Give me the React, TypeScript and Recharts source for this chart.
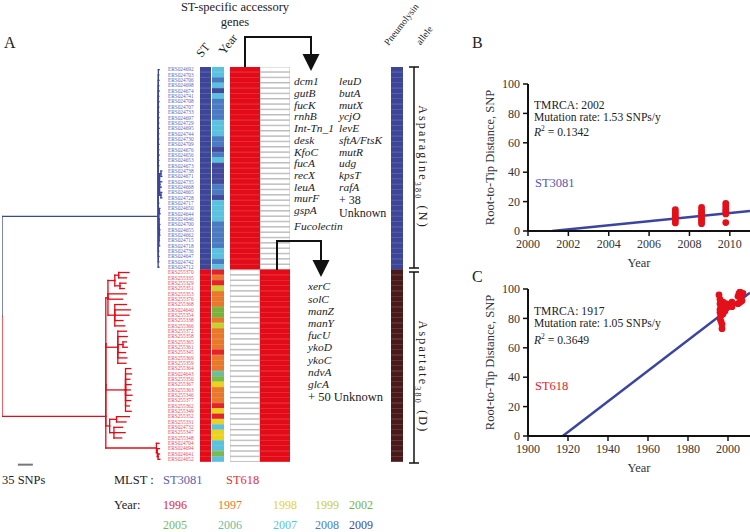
import React from 'react';
import {
  BarChart,
  Bar,
  Cell,
  ComposedChart,
  Line,
  Scatter,
  XAxis,
  YAxis,
  ReferenceLine,
  Label,
} from 'recharts';

const FONT = "'Liberation Serif', 'DejaVu Serif', serif";

// isolates of each ST, top to bottom as in the heat map
const st3081Tips = [
  'ERS024692', 'ERS024703', 'ERS024706', 'ERS024698', 'ERS024674', 'ERS024741', 'ERS024708',
  'ERS024707', 'ERS024733', 'ERS024697', 'ERS024729', 'ERS024695', 'ERS024744', 'ERS024730',
  'ERS024709', 'ERS024676', 'ERS024656', 'ERS024653', 'ERS024673', 'ERS024738', 'ERS024671',
  'ERS024735', 'ERS024668', 'ERS024665', 'ERS024728', 'ERS024717', 'ERS024650', 'ERS024644',
  'ERS024646', 'ERS024700', 'ERS024655', 'ERS024662', 'ERS024715', 'ERS024718', 'ERS024736',
  'ERS024647', 'ERS024742', 'ERS024712',
];
const st618Tips = [
  'ERS255370', 'ERS255335', 'ERS255329', 'ERS255351', 'ERS255353', 'ERS255376', 'ERS255368',
  'ERS024640', 'ERS255354', 'ERS255338', 'ERS255366', 'ERS255372', 'ERS255358', 'ERS255365',
  'ERS255361', 'ERS255345', 'ERS255369', 'ERS255359', 'ERS255364', 'ERS024643', 'ERS255350',
  'ERS255367', 'ERS255363', 'ERS255346', 'ERS255377', 'ERS255362', 'ERS255349', 'ERS255352',
  'ERS255331', 'ERS024732', 'ERS255347', 'ERS255348', 'ERS024704', 'ERS024694', 'ERS024641',
  'ERS024652',
];

// isolation year of each isolate (same order)
const st3081Years = [
  2007, 2007, 2008, 2007, 2009, 2007, 2008, 2008, 2008, 2008, 2007, 2007, 2007, 2008, 2008, 2009,
  2008, 2007, 2009, 2009, 2009, 2009, 2008, 2008, 2009, 2007, 2007, 2007, 2007, 2008, 2008, 2008,
  2008, 2008, 2007, 2007, 2008, 2007,
];
const st618Years = [
  1996, 1997, 1996, 1999, 1997, 1997, 1997, 2002, 2002, 1997, 1999, 1997, 1997, 1997, 1997, 1996,
  1997, 1997, 1997, 2006, 2005, 1998, 1997, 1997, 1997, 1996, 1998, 1996, 1998, 2007, 1998, 1998,
  2007, 2007, 2005, 2007,
];

// ML tree, branch lengths in SNPs
const treeNewick = `(
((ERS024692:2,ERS024703:1,ERS024706:1.5,ERS024698:1,ERS024674:2,ERS024741:1,ERS024708:1.5,
ERS024707:1,ERS024733:1,ERS024697:1.5,ERS024729:1,ERS024695:2,ERS024744:1,ERS024730:1,
ERS024709:1.5,ERS024676:1,ERS024656:2,ERS024653:1,ERS024673:1,
((ERS024738:2,ERS024671:2):3,ERS024735:5,ERS024668:4,(ERS024665:2,ERS024728:2):3):3,
ERS024717:1,((ERS024650:1,ERS024644:1.5):1,ERS024646:1,ERS024700:2,(ERS024655:1,ERS024662:1):1,
ERS024715:1,ERS024718:1.5):1.5,ERS024736:1,ERS024647:1.5,ERS024742:1):0.5,ERS024712:2):364,
((((((ERS255370:24,ERS255335:18):9,(ERS255329:14,ERS255351:10):12):16,ERS255353:43,ERS255376:34,
(ERS255368:27,ERS024640:36,ERS255354:33,ERS255338:19,ERS255366:23):16):5,
(ERS255372:20,ERS255358:22,(ERS255365:8,ERS255361:10):12,ERS255345:18,ERS255369:21,ERS255359:19):28,
(ERS255364:12,ERS024643:14,ERS255350:10,ERS255367:13,ERS255363:11,ERS255346:15,ERS255377:12,
ERS255362:9,ERS255349:13):46):0,
((ERS255352:30,ERS255331:22):16,(ERS024732:20,ERS255347:26,ERS255348:18):10):9):0,
(ERS024704:6,(ERS024694:5,(ERS024641:3,ERS024652:4):2):2):118):242
);`;

const yearLegend = [1996, 1997, 1998, 1999, 2002, 2005, 2006, 2007, 2008, 2009];
const yearColors: Record<number, string> = {
  1996: '#e3222c',
  1997: '#e8792a',
  1998: '#ead31c',
  1999: '#c5d22c',
  2002: '#78b43c',
  2005: '#7cba4a',
  2006: '#69c09e',
  2007: '#5ac2df',
  2008: '#4a7bc2',
  2009: '#42489b',
};

const st3081Genes = ['dcm1', 'gutB', 'fucK', 'rnhB', 'Int-Tn_1', 'desk', 'KfoC', 'fucA', 'recX', 'leuA', 'murF', 'gspA'];
const st3081Genes2 = ['leuD', 'butA', 'mutX', 'ycjO', 'levE', 'sftA/FtsK', 'mutR', 'udg', 'kpsT', 'rafA'];
const st618Genes = ['xerC', 'solC', 'manZ', 'manY', 'fucU', 'ykoD', 'ykoC', 'ndvA', 'glcA'];

// panel B, ST3081
const bYears = [
  2007.3, 2007.3, 2007.3, 2007.3, 2007.3, 2007.3, 2007.3,
  2008.6, 2008.6, 2008.6, 2008.6, 2008.6, 2008.6, 2008.6, 2008.6,
  2009.8, 2009.8, 2009.8, 2009.8, 2009.8, 2009.8,
];
const bSnps = [5.5, 7, 8.5, 10, 11.5, 13, 14.5, 5, 6.5, 8, 9.5, 11, 12.5, 14, 16, 5.7, 11.6, 13.5, 15, 17, 18.8];
const bFitYears = [2001.2, 2011];
const bFitSnps = [0, 13.6];

// panel C, ST618
const cYears = [
  1995.5, 1996, 1996, 1996.5, 1996, 1997, 1996.5, 1996, 1996.5, 1997, 1997, 1997.5, 1998, 1998,
  1998.5, 1997.5, 1999, 1999, 1997, 1996, 2001.5, 2002, 2002, 2005, 2005.5, 2006, 2006.5, 2005,
  2006, 2007, 2007.5,
];
const cSnps = [
  96, 93, 90, 88, 86, 84, 82, 80, 78, 76, 73, 91, 89, 87, 85, 83, 87, 90, 88, 84, 90, 91, 88, 95,
  97, 98, 96, 90, 91, 92, 97,
];
const cFitYears = [1917.4, 2011];
const cFitSnps = [0, 97.5];

const BLUE = '#3d4599';
const RED = '#e30b17';
const BROWN = '#4a1a1a';

// ---- tree ----
type TNode = { name: string; len: number; kids: TNode[]; x: number; y: number };

function parseNewick(src: string): TNode {
  const s = src.replace(/\s+/g, '');
  let i = 0;
  const read = (): TNode => {
    const n: TNode = { name: '', len: 0, kids: [], x: 0, y: 0 };
    if (s[i] === '(') {
      do {
        i++;
        n.kids.push(read());
      } while (s[i] === ',');
      i++;
    }
    while (i < s.length && !',():;'.includes(s[i])) n.name += s[i++];
    if (s[i] === ':') {
      i++;
      let num = '';
      while (i < s.length && !',();'.includes(s[i])) num += s[i++];
      n.len = parseFloat(num);
    }
    return n;
  };
  return read();
}

const tree = parseNewick(treeNewick);
const leaves: TNode[] = [];
const place = (n: TNode, x0: number) => {
  n.x = x0 + n.len;
  if (!n.kids.length) {
    n.y = leaves.length;
    leaves.push(n);
    return;
  }
  n.kids.forEach((k) => place(k, n.x));
  n.y = (n.kids[0].y + n.kids[n.kids.length - 1].y) / 2;
};
place(tree, 0);

const isST3081 = (n: TNode): boolean =>
  n.kids.length ? n.kids.every(isST3081) : st3081Tips.includes(n.name);

type Seg = { x1: number; y1: number; x2: number; y2: number; c: string };
const branches: Seg[] = [];
const walk = (n: TNode) =>
  n.kids.forEach((k) => {
    const c = isST3081(k) ? BLUE : RED;
    branches.push({ x1: n.x, y1: n.y, x2: n.x, y2: k.y, c });
    branches.push({ x1: n.x, y1: k.y, x2: k.x, y2: k.y, c });
    walk(k);
  });
walk(tree);

const rows = leaves.map((l) => {
  const blue = st3081Tips.includes(l.name);
  return {
    name: l.name,
    st: blue ? 'ST3081' : 'ST618',
    year: blue ? st3081Years[st3081Tips.indexOf(l.name)] : st618Years[st618Tips.indexOf(l.name)],
    v: 1,
  };
});

const ROW_TOP = 67;
const ROWS_H = 395;
const ROW_H = ROWS_H / rows.length;
const TREE_H = 410;
const treeYMax = -0.5 + TREE_H / ROW_H;

const TipTick = (props: any) => {
  const { x, y, payload } = props;
  const leaf = leaves[payload.value];
  if (!leaf) return null;
  return (
    <text x={x} y={y} dy={1.8} fontSize={5.3} fontFamily={FONT} fill={isST3081(leaf) ? '#5b60b5' : '#e84552'}>
      {leaf.name}
    </text>
  );
};

function Tree() {
  return (
    <div style={{ position: 'absolute', left: 2, top: ROW_TOP }}>
      <ComposedChart width={198} height={TREE_H} margin={{ top: 0, right: 0, bottom: 0, left: 0 }}>
        <XAxis type="number" dataKey="x" domain={[0, 380]} hide allowDataOverflow />
        <YAxis
          type="number"
          dataKey="y"
          domain={[-0.5, treeYMax]}
          reversed
          orientation="right"
          width={35}
          ticks={leaves.map((_, i) => i)}
          interval={0}
          axisLine={false}
          tickLine={false}
          tickSize={0}
          tickMargin={3}
          tick={<TipTick />}
          allowDataOverflow
        />
        <Scatter
          data={leaves.map((l) => ({ x: l.x, y: l.y }))}
          isAnimationActive={false}
          shape={() => <g />}
        />
        {branches.map((b, i) => (
          <ReferenceLine
            key={i}
            segment={[{ x: b.x1, y: b.y1 }, { x: b.x2, y: b.y2 }]}
            stroke={b.c}
            strokeWidth={1.3}
            strokeLinecap="square"
            ifOverflow="visible"
          />
        ))}
        {/* scale bar: 35 SNPs */}
        <ReferenceLine
          segment={[{ x: 37, y: 74 }, { x: 72, y: 74 }]}
          stroke="#777"
          strokeWidth={2}
          ifOverflow="visible"
        />
      </ComposedChart>
    </div>
  );
}

function Strip({ left, width, fill, stroke }: { left: number; width: number; fill: (r: any) => string; stroke: (r: any) => string }) {
  return (
    <div style={{ position: 'absolute', left, top: ROW_TOP }}>
      <BarChart
        width={width}
        height={ROWS_H}
        data={rows}
        layout="vertical"
        margin={{ top: 0, right: 0, bottom: 0, left: 0 }}
        barCategoryGap={0}
      >
        <XAxis type="number" domain={[0, 1]} hide />
        <YAxis type="category" dataKey="name" hide />
        <Bar dataKey="v" barSize={ROW_H} isAnimationActive={false}>
          {rows.map((r, i) => (
            <Cell key={i} fill={fill(r)} stroke={stroke(r)} strokeWidth={0.7} />
          ))}
        </Bar>
      </BarChart>
    </div>
  );
}

function RootToTip({ top, years, snps, fitYears, fitSnps, xDomain, xTicks }: any) {
  const pts = years.map((y: number, i: number) => ({ year: y, snp: snps[i] }));
  const fit = fitYears.map((y: number, i: number) => ({ year: y, snp: fitSnps[i] }));
  const tickStyle = { fontSize: 12, fill: '#333', fontFamily: FONT };
  return (
    <div style={{ position: 'absolute', left: 440, top }}>
      <ComposedChart width={310} height={200} margin={{ top: 14, right: 0, bottom: 0, left: 0 }}>
        <XAxis
          type="number"
          dataKey="year"
          domain={xDomain}
          ticks={xTicks}
          allowDataOverflow
          height={39}
          tickSize={5}
          tickMargin={3}
          axisLine={{ stroke: '#111', strokeWidth: 2 }}
          tickLine={{ stroke: '#111', strokeWidth: 1.5 }}
          tick={tickStyle}
        >
          <Label value="Year" position="insideBottom" offset={3} fill="#333" style={{ fontSize: 12.5, fontFamily: FONT }} />
        </XAxis>
        <YAxis
          type="number"
          dataKey="snp"
          domain={[0, 100]}
          ticks={[0, 20, 40, 60, 80, 100]}
          allowDataOverflow
          width={88}
          tickSize={5}
          tickMargin={3}
          axisLine={{ stroke: '#111', strokeWidth: 2 }}
          tickLine={{ stroke: '#111', strokeWidth: 1.5 }}
          tick={tickStyle}
        >
          <Label
            value="Root-to-Tip Distance, SNP"
            angle={-90}
            position="insideLeft"
            offset={50}
            fill="#333"
            style={{ fontSize: 12.5, fontFamily: FONT, textAnchor: 'middle' }}
          />
        </YAxis>
        <Line data={fit} dataKey="snp" stroke="#3b45a0" strokeWidth={2.5} dot={false} isAnimationActive={false} />
        <Scatter
          data={pts}
          isAnimationActive={false}
          shape={(p: any) => <circle cx={p.cx} cy={p.cy} r={3.4} fill="#e3101a" />}
        />
      </ComposedChart>
    </div>
  );
}

const T = ({ x, y, size = 12.5, color = '#222', italic = false, center = false, children }: any) => (
  <div
    style={{
      position: 'absolute',
      left: x,
      top: y,
      transform: `translate(${center ? '-50%' : '0'}, -50%)`,
      fontSize: size,
      color,
      fontStyle: italic ? 'italic' : 'normal',
      whiteSpace: 'nowrap',
      lineHeight: 1,
    }}
  >
    {children}
  </div>
);

const Rot = ({ x, y, angle, size = 11, spacing = 0, children }: any) => (
  <div
    style={{
      position: 'absolute',
      left: x,
      top: y,
      transform: `translate(-50%, -50%) rotate(${angle}deg)`,
      fontSize: size,
      color: '#222',
      whiteSpace: 'nowrap',
      lineHeight: 1,
      letterSpacing: spacing,
    }}
  >
    {children}
  </div>
);

const legendX = [163, 218, 273, 315, 349];
const supStyle = { fontSize: 7.5, lineHeight: 0, verticalAlign: 'super' } as const;

export default function App() {
  return (
    <div
      style={{
        position: 'absolute',
        left: 0,
        top: 0,
        width: 750,
        height: 532,
        background: '#fff',
        overflow: 'hidden',
        fontFamily: FONT,
      }}
    >
      <Tree />
      <Strip left={200} width={11} fill={(r) => (r.st === 'ST3081' ? BLUE : RED)} stroke={(r) => (r.st === 'ST3081' ? BLUE : RED)} />
      <Strip left={212} width={12} fill={(r) => yearColors[r.year]} stroke={(r) => yearColors[r.year]} />
      <Strip left={230} width={30} fill={(r) => (r.st === 'ST3081' ? RED : '#fff')} stroke={(r) => (r.st === 'ST3081' ? RED : '#aaa')} />
      <Strip left={260} width={30} fill={(r) => (r.st === 'ST618' ? RED : '#fff')} stroke={(r) => (r.st === 'ST618' ? RED : '#aaa')} />
      <Strip left={391} width={12} fill={(r) => (r.st === 'ST3081' ? BLUE : BROWN)} stroke={(r) => (r.st === 'ST3081' ? BLUE : BROWN)} />

      <RootToTip top={70} years={bYears} snps={bSnps} fitYears={bFitYears} fitSnps={bFitSnps} xDomain={[2000, 2011]} xTicks={[2000, 2002, 2004, 2006, 2008, 2010]} />
      <RootToTip top={275} years={cYears} snps={cSnps} fitYears={cFitYears} fitSnps={cFitSnps} xDomain={[1900, 2011]} xTicks={[1900, 1920, 1940, 1960, 1980, 2000]} />

      <svg width={750} height={532} style={{ position: 'absolute', left: 0, top: 0, pointerEvents: 'none' }}>
        <polyline points="245,67 245,37 311,37 311,56" fill="none" stroke="#111" strokeWidth={2} />
        <polygon points="302.5,54 319.5,54 311,71" fill="#111" />
        <polyline points="277,270 277,241 321,241 321,262" fill="none" stroke="#111" strokeWidth={2} />
        <polygon points="312.5,260 329.5,260 321,277" fill="#111" />
        <g stroke="#111" strokeWidth={1.5}>
          <line x1={414} y1={67} x2={414} y2={268} />
          <line x1={409} y1={67} x2={419} y2={67} />
          <line x1={409} y1={268} x2={419} y2={268} />
          <line x1={414} y1={272} x2={414} y2={463} />
          <line x1={409} y1={272} x2={419} y2={272} />
          <line x1={409} y1={463} x2={419} y2={463} />
        </g>
      </svg>

      <T x={4} y={43} size={16}>A</T>
      <T x={472} y={43} size={16}>B</T>
      <T x={472} y={277} size={16}>C</T>

      <T x={235} y={7} size={12.5} center>ST-specific accessory</T>
      <T x={235} y={22} size={12.5} center>genes</T>
      <Rot x={203} y={50} angle={-52} size={12}>ST</Rot>
      <Rot x={228} y={44} angle={-52} size={12}>Year</Rot>
      <Rot x={402} y={25} angle={-52} size={9.5}>Pneumolysin</Rot>
      <Rot x={425} y={36} angle={-52} size={9.5}>allele</Rot>

      <Rot x={421} y={167} angle={90} size={12} spacing={2.2}>
        Asparagine<sub style={{ fontSize: 8 }}>380</sub> (N)
      </Rot>
      <Rot x={421} y={377} angle={90} size={12} spacing={2.2}>
        Aspartate<sub style={{ fontSize: 8 }}>380</sub> (D)
      </Rot>

      {st3081Genes.map((g, i) => (
        <T key={g} x={294} y={82.3 + i * 11.7} size={11.4} italic>{g}</T>
      ))}
      <T x={294} y={226.5} size={11.4} italic>Fucolectin</T>
      {st3081Genes2.map((g, i) => (
        <T key={g} x={339} y={82.3 + i * 11.7} size={11.4} italic>{g}</T>
      ))}
      <T x={339} y={200} size={12}>+ 38</T>
      <T x={339} y={212.7} size={12}>Unknown</T>
      {st618Genes.map((g, i) => (
        <T key={g} x={308} y={287.3 + i * 12.2} size={11.4} italic>{g}</T>
      ))}
      <T x={308} y={397} size={12.5}>+ 50 Unknown</T>

      <T x={534} y={105.5} size={11.6}>TMRCA: 2002</T>
      <T x={534} y={117.8} size={11.6}>Mutation rate: 1.53 SNPs/y</T>
      <T x={534} y={132.5} size={11.6}><i>R</i><sup style={supStyle}>2</sup> = 0.1342</T>
      <T x={535} y={183} size={12.5} color="#5458b0">ST3081</T>
      <T x={534} y={311.5} size={11.6}>TMRCA: 1917</T>
      <T x={534} y={323.8} size={11.6}>Mutation rate: 1.05 SNPs/y</T>
      <T x={534} y={340.5} size={11.6}><i>R</i><sup style={supStyle}>2</sup> = 0.3649</T>
      <T x={535} y={386} size={12.5} color="#e8202c">ST618</T>

      <T x={2} y={480} size={12.5}>35 SNPs</T>
      <T x={114} y={480} size={12.5}>MLST :</T>
      <T x={163} y={480} size={12.5} color="#5a5fb0">ST3081</T>
      <T x={226} y={480} size={12.5} color="#e8303a">ST618</T>
      <T x={114} y={505} size={12.5}>Year:</T>
      {yearLegend.map((yr, i) => (
        <T key={yr} x={legendX[i % 5]} y={i < 5 ? 505 : 525} size={12} color={yearColors[yr]}>
          {yr}
        </T>
      ))}
    </div>
  );
}
